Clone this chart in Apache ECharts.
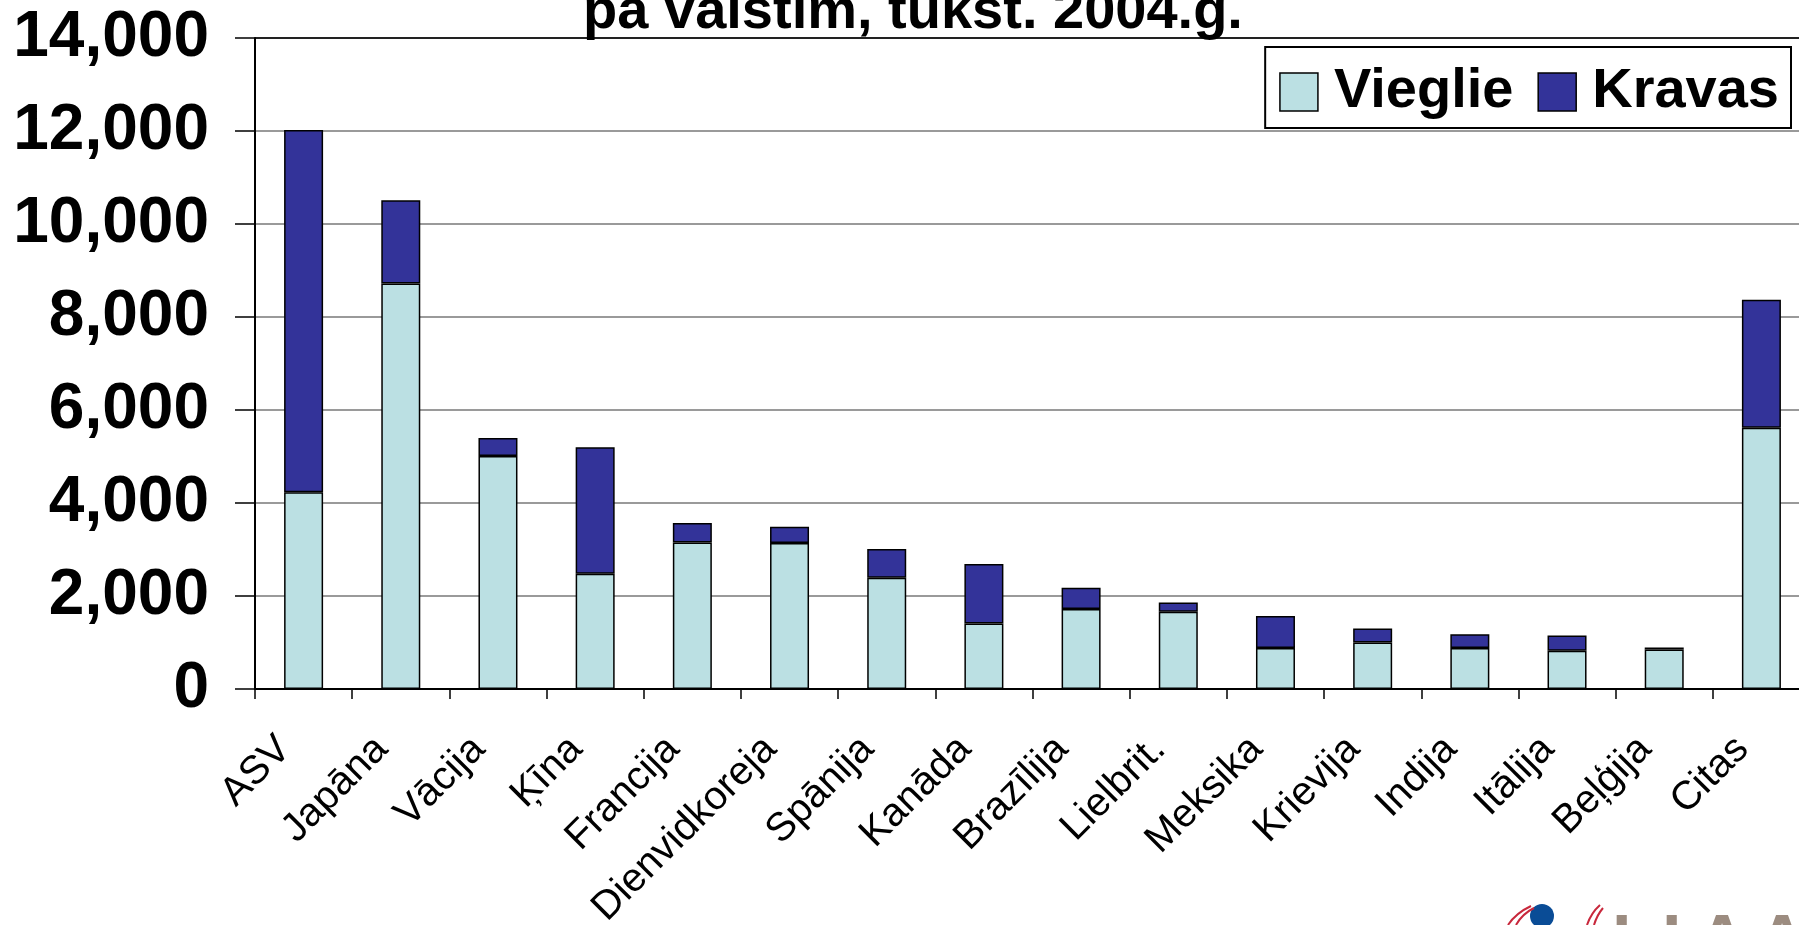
<!DOCTYPE html>
<html>
<head>
<meta charset="utf-8">
<script src="https://cdn.jsdelivr.net/npm/echarts@6/dist/echarts.min.js"></script>
<style>
html, body { margin: 0; padding: 0; background: #fff; overflow: hidden; }
#main { width: 1810px; height: 925px; }
</style>
</head>
<body>
<div id="main"></div>
<script>
// ražošana pa valstīm, tūkst. 2004.g.
var categories = ['ASV', 'Japāna', 'Vācija', 'Ķīna', 'Francija', 'Dienvidkoreja', 'Spānija', 'Kanāda',
  'Brazīlija', 'Lielbrit.', 'Meksika', 'Krievija', 'Indija', 'Itālija', 'Beļģija', 'Citas']
var vieglie = [4230, 8720, 5010, 2480, 3150, 3140, 2390, 1410, 1720, 1660, 880, 1000, 880, 820, 850, 5620]
var kravas = [7790, 1790, 390, 2720, 420, 350, 620, 1280, 460, 200, 690, 300, 300, 330, 40, 2750]
var seriesNames = ['Vieglie', 'Kravas']
var titleText = 'pa valstīm, tūkst. 2004.g.'

var chart = echarts.init(document.getElementById('main'))

var gridColors = ['#9a9a9a', '#9a9a9a', '#9a9a9a', '#9a9a9a', '#9a9a9a', '#9a9a9a', '#9a9a9a', '#222']
var logoFont = 'bold 70px "Liberation Sans", Arial'

chart.setOption({
  animation: false,
  backgroundColor: '#fff',
  textStyle: { fontFamily: 'Liberation Sans, Arial, sans-serif' },
  graphic: [
    {
      type: 'text', x: 913, y: 13, z: 10,
      style: { text: titleText, fill: '#000', font: 'bold 56px "Liberation Sans", Arial',
        textAlign: 'center', textVerticalAlign: 'middle' }
    },
    // logo fragment bottom right
    { type: 'circle', shape: { cx: 1542, cy: 916, r: 12 }, style: { fill: '#0a4c96' } },
    { type: 'bezierCurve', shape: { x1: 1508, y1: 925, x2: 1531, y2: 906, cpx1: 1516, cpy1: 913 },
      style: { stroke: '#c8283c', lineWidth: 2, fill: null } },
    { type: 'bezierCurve', shape: { x1: 1516, y1: 925, x2: 1534, y2: 908, cpx1: 1522, cpy1: 914 },
      style: { stroke: '#c8283c', lineWidth: 2, fill: null } },
    { type: 'bezierCurve', shape: { x1: 1587, y1: 925, x2: 1600, y2: 905, cpx1: 1591, cpy1: 913 },
      style: { stroke: '#c8283c', lineWidth: 2, fill: null } },
    { type: 'bezierCurve', shape: { x1: 1594, y1: 925, x2: 1603, y2: 908, cpx1: 1597, cpy1: 915 },
      style: { stroke: '#c8283c', lineWidth: 2, fill: null } },
    { type: 'text', x: 1612, y: 910, style: { text: 'L', fill: '#9c8c80', font: logoFont, textVerticalAlign: 'top' } },
    { type: 'text', x: 1662, y: 910, style: { text: 'I', fill: '#9c8c80', font: logoFont, textVerticalAlign: 'top' } },
    { type: 'text', x: 1722, y: 910, style: { text: 'A', fill: '#9c8c80', font: logoFont, textAlign: 'center', textVerticalAlign: 'top' } },
    { type: 'text', x: 1782, y: 910, style: { text: 'A', fill: '#9c8c80', font: logoFont, textAlign: 'center', textVerticalAlign: 'top' } }
  ],
  legend: {
    data: seriesNames,
    right: 1810 - 1791,
    top: 47,
    orient: 'horizontal',
    backgroundColor: '#fff',
    borderColor: '#000',
    borderWidth: 2,
    borderRadius: 0,
    padding: [17, 12, 8, 14],
    itemWidth: 38,
    itemHeight: 38,
    itemGap: 24,
    icon: 'rect',
    itemStyle: { borderColor: '#000', borderWidth: 1.5 },
    textStyle: { fontSize: 56, fontWeight: 'bold', color: '#000', padding: [0, 0, 0, 11] }
  },
  grid: {
    left: 255,
    right: 0,
    top: 38,
    bottom: 236,
    containLabel: false,
    outerBoundsMode: 'none'
  },
  xAxis: {
    type: 'category',
    data: categories,
    axisLine: { lineStyle: { color: '#000', width: 2 } },
    axisTick: { show: true, length: 10, lineStyle: { color: '#000', width: 1.5 } },
    axisLabel: {
      rotate: 45,
      interval: 0,
      margin: 35,
      padding: [0, 27, 0, 0],
      fontSize: 40,
      color: '#000'
    }
  },
  yAxis: {
    type: 'value',
    min: 0,
    max: 14000,
    interval: 2000,
    axisLine: { show: true, lineStyle: { color: '#000', width: 2 } },
    axisTick: { show: true, length: 20, lineStyle: { color: '#000', width: 1.5 } },
    splitLine: { show: true, lineStyle: { color: gridColors, width: 2 } },
    axisLabel: {
      margin: 46,
      fontSize: 64,
      fontWeight: 'bold',
      color: '#000',
      formatter: function (v) { return v.toLocaleString('en-US') }
    }
  },
  series: [
    {
      name: seriesNames[0],
      type: 'bar',
      stack: 'a',
      barWidth: 39,
      itemStyle: { color: '#bbe0e3', borderColor: '#000', borderWidth: 1.5 },
      data: vieglie
    },
    {
      name: seriesNames[1],
      type: 'bar',
      stack: 'a',
      barWidth: 39,
      itemStyle: { color: '#333399', borderColor: '#000', borderWidth: 1.5 },
      data: kravas
    }
  ]
})
</script>
</body>
</html>
